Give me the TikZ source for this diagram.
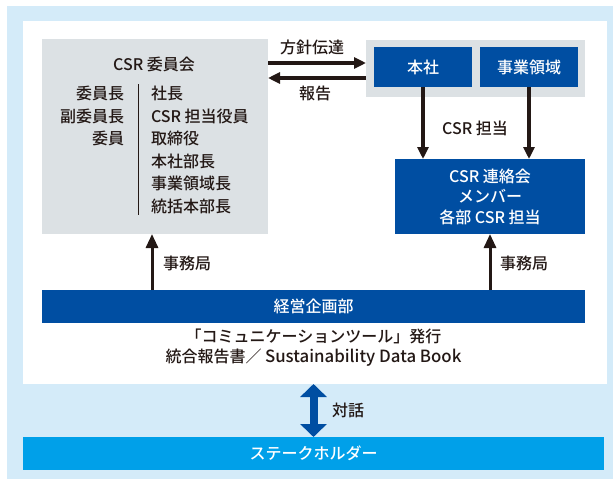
\documentclass[tikz,border=0pt]{standalone}
\usepackage{fontspec}
\setmainfont{Noto Sans CJK JP}[UprightFont=* Medium]
\usetikzlibrary{arrows.meta}
\definecolor{lb}{RGB}{212,235,249}
\definecolor{gb}{RGB}{220,225,228}
\definecolor{db}{RGB}{0,78,162}
\definecolor{sb}{RGB}{0,160,233}
\definecolor{ink}{RGB}{35,24,21}
\begin{document}
\begin{tikzpicture}[x=1pt,y=-1pt,
  font=\fontsize{16}{20.5}\selectfont, text=ink,
  box/.style={draw=none, inner sep=0pt, outer sep=0pt},
  lbl/.style={inner sep=0pt, outer sep=0pt},
  arr/.style={draw=ink, line width=3.5pt, -{Triangle[length=12pt,width=11pt]}},
  arrup/.style={draw=ink, line width=3pt, -{Triangle[length=14pt,width=12pt]}},
  dbl/.style={draw=db, line width=8pt, {Triangle[length=13pt,width=26pt]}-{Triangle[length=13pt,width=26pt]}}
]
\useasboundingbox (0,0) rectangle (613,479);
% backgrounds
\node[box, fill=lb, minimum width=606pt, minimum height=473pt] (bg) at (310,242.5) {};
\node[box, fill=white, minimum width=584pt, minimum height=363pt] (inner) at (315,202.5) {};
% boxes
\node[box, fill=gb, minimum width=226pt, minimum height=195pt] (comm) at (155,136.5) {};
\node[box, fill=gb, minimum width=219pt, minimum height=57pt] (grp) at (475.5,68.5) {};
\node[box, fill=db, text=white, minimum width=98pt, minimum height=40pt] (honsha) at (423,67) {本社};
\node[box, fill=db, text=white, minimum width=98pt, minimum height=40pt] (jigyo) at (529,67) {事業領域};
\node[box, fill=db, text=white, minimum width=190pt, minimum height=75pt, align=center] (renraku) at (490,196.5) {CSR 連絡会\\メンバー\\各部 CSR 担当};
\node[box, fill=db, text=white, minimum width=543pt, minimum height=33pt] (keiei) at (313.5,306.5) {経営企画部};
\node[box, fill=sb, text=white, minimum width=581pt, minimum height=33pt] (stake) at (313.5,453.5) {ステークホルダー};
% committee contents
\node[lbl] (commtitle) at (154,64) {CSR 委員会};
\node[lbl, anchor=east] (l1) at (124,93) {委員長};
\node[lbl, anchor=east] (l2) at (124,116) {副委員長};
\node[lbl, anchor=east] (l3) at (124,138) {委員};
\node[lbl, anchor=west] (r1) at (151,93) {社長};
\node[lbl, anchor=west] (r2) at (151,116) {CSR 担当役員};
\node[lbl, anchor=west] (r3) at (151,138) {取締役};
\node[lbl, anchor=west] (r4) at (151,161) {本社部長};
\node[lbl, anchor=west] (r5) at (151,183) {事業領域長};
\node[lbl, anchor=west] (r6) at (151,206) {統括本部長};
\coordinate (vtop) at (138,84);
\coordinate (vbot) at (138,215);
\draw[draw=ink, line width=1pt] (vtop) -- (vbot);
% arrows
\draw[arr] (comm.east |- 0,63) -- (grp.west |- 0,63);
\draw[arr] (grp.west |- 0,78) -- (comm.east |- 0,78);
\node[lbl] (hoshin) at (312,47) {方針伝達};
\node[lbl] (hokoku) at (315,93) {報告};
\draw[arr] (honsha.south) -- (honsha.south |- renraku.north);
\draw[arr] (jigyo.south) -- (jigyo.south |- renraku.north);
\node[lbl] (csrtanto) at (475,128) {CSR 担当};
\draw[arrup] (keiei.north -| 152,0) -- (comm.south -| 152,0);
\draw[arrup] (keiei.north -| renraku.south) -- (renraku.south);
\node[lbl] (jimu1) at (187,263) {事務局};
\node[lbl] (jimu2) at (524,263) {事務局};
\node[lbl, align=center, font=\fontsize{16}{20}\selectfont] (caption) at (313.5,348) {「コミュニケーションツール」発行\\統合報告書／ {\fontsize{16.8}{20}\selectfont Sustainability Data Book}};
\draw[dbl] (inner.south -| stake.north) -- (stake.north);
\node[lbl] (taiwa) at (348,410) {対話};
\end{tikzpicture}
\end{document}
